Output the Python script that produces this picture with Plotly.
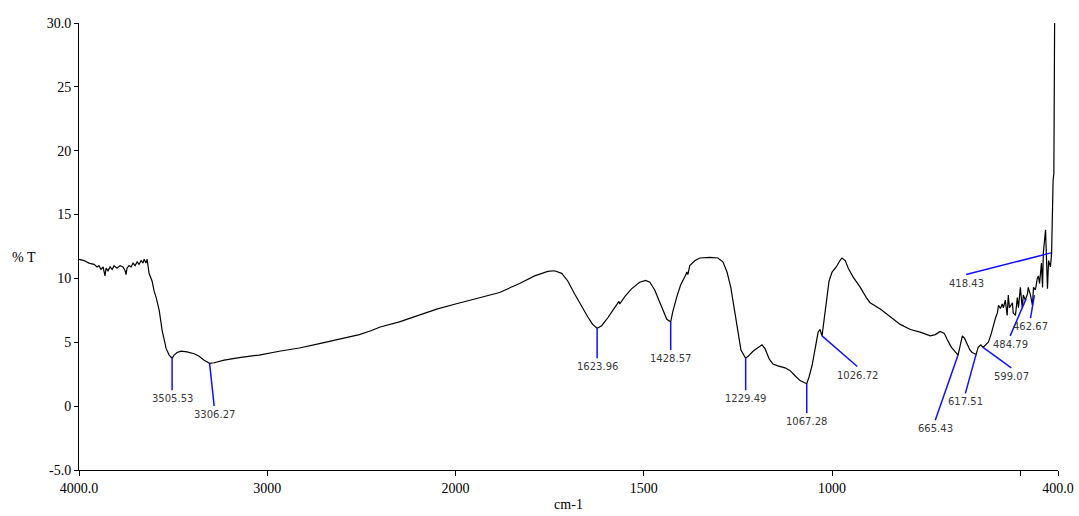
import numpy as np
import plotly.graph_objects as go

# ---- spectrum data (wavenumber cm-1, %T) ----
wavenumber = [4000, 3973, 3947, 3920, 3904, 3894, 3883, 3872, 3862, 3856, 3846, 3835, 3824, 3814,
              3798, 3782, 3766, 3755, 3750, 3745, 3734, 3723, 3713, 3702, 3691, 3681, 3670, 3660,
              3654, 3644, 3638, 3628, 3612, 3601, 3590, 3574, 3558, 3548, 3537, 3521, 3511, 3505.53,
              3495, 3479, 3457, 3426, 3388, 3362, 3335, 3306.27, 3282, 3229, 3149, 3043, 2936, 2830,
              2723, 2617, 2564, 2511, 2450, 2400, 2298, 2200, 2100, 2000, 1936, 1883, 1830, 1790,
              1755, 1737, 1718, 1702, 1684, 1665, 1649, 1636, 1623.96, 1612, 1596, 1580, 1566, 1564,
              1550, 1532, 1511, 1495, 1484, 1471, 1458, 1447, 1439, 1428.57, 1423, 1412, 1402, 1388,
              1386, 1383, 1378, 1364, 1351, 1324, 1303, 1290, 1279, 1269, 1258, 1250, 1242, 1229.49,
              1223, 1210, 1197, 1186, 1178, 1167, 1157, 1144, 1125, 1112, 1099, 1085, 1067.28, 1061,
              1053, 1045, 1037, 1032, 1026.72, 1018, 1008, 1000, 989, 979, 974, 965, 957, 944, 925,
              909, 899, 872, 846, 819, 792, 766, 739, 726, 713, 702, 694, 683, 665.43, 660, 654, 648,
              641, 634, 628, 617.51, 612, 605, 599.07, 592, 585, 578, 572, 566, 561, 558, 553, 548,
              545, 540, 535, 532, 529, 521, 519, 513, 508, 505, 500, 495, 492, 487, 481, 479, 473,
              468, 465, 460, 455, 452, 449, 444, 441, 439, 433, 431, 428, 425, 420, 417, 415, 413,
              411, 409]
transmittance = [11.5, 11.4, 11.2, 11.1, 10.9, 11.0, 10.7, 10.9, 10.2, 10.8, 10.6, 10.9, 10.7, 11.0,
                 10.8, 11.0, 10.9, 10.6, 10.3, 10.8, 11.0, 10.9, 11.2, 11.0, 11.3, 11.1, 11.4, 11.2,
                 11.5, 11.2, 11.5, 10.4, 9.8, 9.0, 8.5, 7.5, 5.9, 5.2, 4.5, 4.0, 3.8, 3.75,
                 4.0, 4.2, 4.3, 4.25, 4.1, 3.9, 3.6, 3.35, 3.4, 3.6, 3.8, 4.0, 4.3, 4.55,
                 4.9, 5.25, 5.45, 5.6, 5.9, 6.2, 6.6, 7.1, 7.6, 8.0, 8.5, 8.9, 9.6, 10.2,
                 10.55, 10.6, 10.4, 9.8, 8.8, 7.8, 7.0, 6.4, 6.1, 6.3, 6.9, 7.6, 8.2, 8.0,
                 8.6, 9.2, 9.7, 9.85, 9.7, 9.1, 8.2, 7.3, 6.8, 6.6, 7.4, 8.6, 9.5, 10.3,
                 10.5, 10.3, 11.0, 11.4, 11.6, 11.65, 11.6, 11.3, 10.5, 9.3, 7.3, 5.8, 4.4, 3.75,
                 3.9, 4.3, 4.6, 4.8, 4.5, 3.7, 3.3, 3.15, 3.0, 2.8, 2.4, 2.0, 1.75, 2.3,
                 3.2, 4.6, 5.8, 6.0, 5.5, 7.5, 9.8, 10.5, 10.9, 11.4, 11.6, 11.4, 10.8, 10.1, 9.3,
                 8.5, 8.1, 7.6, 7.0, 6.4, 6.0, 5.8, 5.5, 5.6, 5.85, 5.7, 5.2, 4.6, 4.0, 4.8, 5.5, 5.3,
                 4.9, 4.4, 4.2, 4.05, 4.6, 4.8, 4.6, 4.8, 5.0, 5.6, 6.3, 6.9, 7.3, 7.9, 7.65, 8.0,
                 7.7, 8.3, 7.1, 8.7, 7.7, 8.1, 7.3, 7.1, 8.5, 7.7, 9.3, 7.7, 8.7, 8.3, 8.8, 9.3, 8.7,
                 7.9, 9.3, 9.1, 10.0, 10.2, 9.6, 11.2, 9.3, 12.0, 13.8, 11.2, 9.2, 11.4, 10.9, 12.0, 15.1, 17.7,
                 18.2, 30.0]

# ---- peak annotations ----
peak_labels = ["3505.53", "3306.27", "1623.96", "1428.57", "1229.49", "1067.28", "1026.72",
               "665.43", "617.51", "599.07", "484.79", "462.67", "418.43"]
peak_wn = [3505.53, 3306.27, 1623.96, 1428.57, 1229.49, 1067.28, 1026.72,
           665.43, 617.51, 599.07, 484.79, 462.67, 418.43]
peak_t = [3.75, 3.35, 6.1, 6.6, 3.75, 1.75, 5.5, 4.0, 4.05, 4.6, 8.4, 8.7, 12.0]
label_wn = [3505.53, 3282, 1623.96, 1428.57, 1229.49, 1067.28, 933, 726, 646, 524, 527, 473, 644]
label_t = [1.25, 0.0, 3.75, 4.4, 1.25, -0.55, 3.1, -1.1, 1.0, 3.0, 5.5, 6.9, 10.3]

# ---- axis ticks ----
x_tick_wn = [4000, 3000, 2000, 1500, 1000, 500, 400]
x_tick_text = ["4000.0", "3000", "2000", "1500", "1000", "", "400.0"]
y_tick_vals = [-5, 0, 5, 10, 15, 20, 25, 30]
y_tick_text = ["-5.0", "0", "5", "10", "15", "20", "25", "30.0"]

L, R, T, B = 79, 21, 23, 46
W, H = 1079, 516
PW, PH = W - L - R, H - T - B


def to_u(w):
    """Instrument axis: scale doubles below 2000 cm-1."""
    w = np.asarray(w, dtype=float)
    return np.where(w >= 2000, 4000 - w, 2000 + (2000 - w) * 2)


fig = go.Figure()
fig.add_trace(go.Scatter(x=to_u(wavenumber), y=transmittance, mode="lines",
                         line=dict(color="black", width=1.2), showlegend=False,
                         hoverinfo="skip"))

pu = to_u(peak_wn)
lu = to_u(label_wn)
for i, txt in enumerate(peak_labels):
    fig.add_shape(type="line", xref="x", yref="y", x0=pu[i], y0=peak_t[i], x1=lu[i], y1=label_t[i],
                  line=dict(color="#1010ff", width=1.5))
    fig.add_annotation(x=lu[i], y=label_t[i], xref="x", yref="y", text=txt, showarrow=False,
                       xanchor="center", yanchor="top", yshift=-1,
                       font=dict(family="DejaVu Sans", size=10, color="#3a3a3a"))

fig.add_annotation(x=(24 - L) / PW, y=(H - B - 257) / PH, xref="paper", yref="paper",
                   text="% T", showarrow=False, xanchor="center", yanchor="middle",
                   font=dict(family="Liberation Serif", size=14, color="black"))

fig.update_layout(
    width=W, height=H,
    margin=dict(l=L, r=R, t=T, b=B, autoexpand=False),
    paper_bgcolor="white", plot_bgcolor="white",
    font=dict(family="Liberation Serif", size=14, color="black"),
)

fig.update_xaxes(range=[0, 5200], tickmode="array", tickvals=to_u(x_tick_wn), ticktext=x_tick_text,
                 showline=True, linecolor="black", linewidth=1, ticks="outside", ticklen=5,
                 tickcolor="black", showgrid=False, zeroline=False, automargin=False,
                 title=dict(text="cm-1", font=dict(family="Liberation Serif", size=14), standoff=4))
fig.update_yaxes(range=[-5, 30], tickmode="array", tickvals=y_tick_vals, ticktext=y_tick_text,
                 showline=True, linecolor="black", linewidth=1, ticks="outside", ticklen=4,
                 tickcolor="black", showgrid=False, zeroline=False, automargin=False)

fig.write_html("out.html", config={"displayModeBar": False},
               post_script="document.body.style.margin='0';document.body.style.overflow='hidden';")
